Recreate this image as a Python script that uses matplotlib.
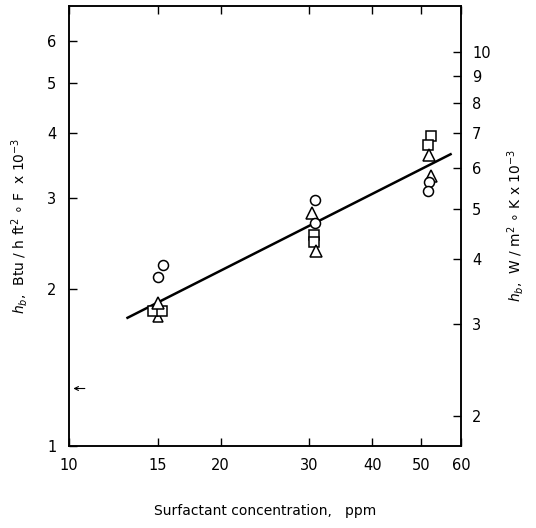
import matplotlib
matplotlib.use("Agg")
import matplotlib.pyplot as plt
from matplotlib.ticker import NullLocator, FixedLocator, FixedFormatter

# ---- data ----
circle_conc = [15.4, 15.0, 30.8, 30.8, 51.8, 51.6]
circle_h = [2.23, 2.11, 2.97, 2.68, 3.22, 3.10]

square_conc = [14.7, 15.3, 30.7, 30.7, 52.2, 51.6]
square_h = [1.82, 1.82, 2.55, 2.47, 3.95, 3.80]

triangle_conc = [15.0, 15.0, 30.4, 30.9, 51.8, 52.4]
triangle_h = [1.88, 1.77, 2.81, 2.37, 3.63, 3.30]

fit_conc = [13.0, 57.5]
fit_h = [1.76, 3.65]

arrow_conc = [10.75, 10.2]
arrow_h = 1.29

x_ticks = [10, 15, 20, 30, 40, 50, 60]
x_ticklabels = ["10", "15", "20", "30", "40", "50", "60"]
y_ticks = [1, 2, 3, 4, 5, 6]
y_ticklabels = ["1", "2", "3", "4", "5", "6"]
y2_ticks = [2, 3, 4, 5, 6, 7, 8, 9, 10]
y2_ticklabels = ["2", "3", "4", "5", "6", "7", "8", "9", "10"]

conv = 1.75  # right-axis scale factor relative to left axis
xlim = (10, 60)
ylim = (1.0, 7.02)

plt.rcParams['font.family'] = ['DejaVu Sans']

fig = plt.figure(figsize=(5.36, 5.28), dpi=100)
ax = fig.add_axes([69/536, 82/528, 392/536, 440/528])
ax.set_xscale('log')
ax.set_yscale('log')
ax.set_xlim(*xlim)
ax.set_ylim(*ylim)

ax.plot(fit_conc, fit_h, color='black', lw=1.8, zorder=2, solid_capstyle='butt')

mk = dict(linestyle='none', markerfacecolor='white', markeredgecolor='black',
          markeredgewidth=1.1, zorder=3)
ax.plot(triangle_conc[1:2], triangle_h[1:2], marker='^', ms=7.5, **mk)
ax.plot(square_conc, square_h, marker='s', ms=7, **mk)
ax.plot(triangle_conc[0:1] + triangle_conc[2:], triangle_h[0:1] + triangle_h[2:],
        marker='^', ms=8, **mk)
ax.plot(circle_conc, circle_h, marker='o', ms=7.2, **mk)

ax.annotate('', xy=(arrow_conc[1], arrow_h), xytext=(arrow_conc[0], arrow_h),
            arrowprops=dict(arrowstyle='->', lw=0.8, color='black',
                            shrinkA=0, shrinkB=0, mutation_scale=7))

for s in ax.spines.values():
    s.set_linewidth(1.1)

ax.xaxis.set_major_locator(FixedLocator(x_ticks))
ax.xaxis.set_major_formatter(FixedFormatter(x_ticklabels))
ax.xaxis.set_minor_locator(NullLocator())
ax.yaxis.set_major_locator(FixedLocator(y_ticks))
ax.yaxis.set_major_formatter(FixedFormatter(y_ticklabels))
ax.yaxis.set_minor_locator(NullLocator())
ax.tick_params(axis='both', which='major', direction='in', length=6, width=1.0,
               labelsize=10.5, top=True, right=False, pad=9)

ax2 = ax.twinx()
ax2.set_yscale('log')
ax2.set_ylim(ylim[0] * conv, ylim[1] * conv)
ax2.yaxis.set_major_locator(FixedLocator(y2_ticks))
ax2.yaxis.set_major_formatter(FixedFormatter(y2_ticklabels))
ax2.yaxis.set_minor_locator(NullLocator())
ax2.tick_params(axis='y', which='major', direction='in', length=6, width=1.0,
                labelsize=10.5, pad=8)
for s in ax2.spines.values():
    s.set_linewidth(1.1)

ax.set_xlabel('Surfactant concentration,   ppm', fontsize=10, labelpad=22)
ax.set_ylabel(r'$h_b$,  Btu / h ft$^2$ $\circ$ F  x 10$^{-3}$', fontsize=10, labelpad=12)
ax2.set_ylabel(r'$h_b$,  W / m$^2$ $\circ$ K x 10$^{-3}$', fontsize=10, labelpad=10)

fig.savefig('out.png', dpi=100)
